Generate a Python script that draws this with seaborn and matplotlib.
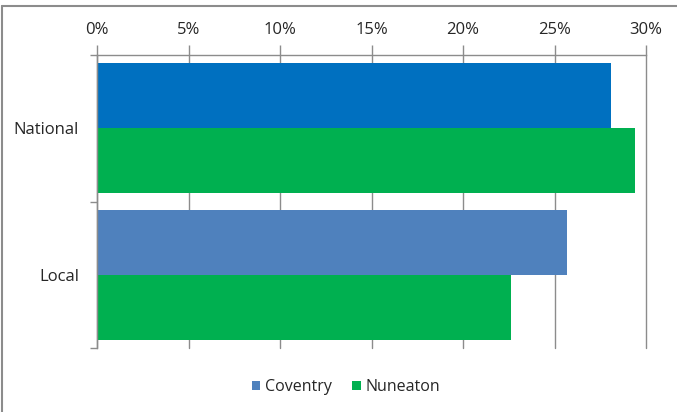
import matplotlib
matplotlib.use("Agg")
import matplotlib.pyplot as plt
from matplotlib.lines import Line2D
from matplotlib.patches import Patch
from matplotlib.ticker import PercentFormatter, FixedLocator
import seaborn as sns
import pandas as pd

# Share of respondents by area (fraction)
categories = ["National", "Local"]
coventry = [0.281, 0.257]
nuneaton = [0.294, 0.226]
series_names = ["Coventry", "Nuneaton"]
x_ticks = [0.0, 0.05, 0.10, 0.15, 0.20, 0.25, 0.30]

colors = {"Coventry": "#4F81BD", "Nuneaton": "#00B050"}
national_coventry_color = "#0070C0"
grid_color = "#8C8C8C"
text_color = "#262626"

df = pd.DataFrame({
    "Area": categories * 2,
    "Value": coventry + nuneaton,
    "Series": [series_names[0]] * len(categories) + [series_names[1]] * len(categories),
})

sns.set_theme(style="white")
plt.rcParams["font.family"] = ["Open Sans", "DejaVu Sans"]

W, H = 677, 412
fig = plt.figure(figsize=(W / 100, H / 100), dpi=100)
ax = fig.add_axes([97 / W, 1 - 348 / H, (646 - 97) / W, (348 - 55) / H])

sns.barplot(data=df, y="Area", x="Value", hue="Series", order=categories,
            hue_order=series_names, palette=colors, orient="h", width=0.89,
            saturation=1, legend=False, ax=ax, linewidth=0)

# The national Coventry bar is drawn in a deeper blue
ax.containers[0][0].set_facecolor(national_coventry_color)

ax.set_xlim(0, 0.30)
ax.set_ylim(1.5, -0.5)
ax.xaxis.set_major_locator(FixedLocator(x_ticks))
ax.xaxis.set_major_formatter(PercentFormatter(1.0, decimals=0))
ax.xaxis.tick_top()
ax.xaxis.set_label_position("top")
ax.set_xlabel("")
ax.set_ylabel("")

ax.grid(axis="x", color=grid_color, linewidth=1.0)
ax.set_axisbelow(True)
for gl in ax.get_xgridlines():
    gl.set_clip_on(False)

for side in ("right", "bottom"):
    ax.spines[side].set_visible(False)
for side in ("top", "left"):
    ax.spines[side].set_color(grid_color)
    ax.spines[side].set_linewidth(1.0)

ax.tick_params(axis="x", which="major", top=True, bottom=False, direction="out",
               length=7, width=1.0, color=grid_color, pad=5,
               labelsize=12, labelcolor=text_color)
ax.set_yticks([0, 1])
ax.set_yticklabels(categories)
ax.yaxis.set_minor_locator(FixedLocator([-0.5, 0.5, 1.5]))
ax.tick_params(axis="y", which="major", left=False, length=0, pad=13,
               labelsize=12, labelcolor=text_color)
ax.tick_params(axis="y", which="minor", left=True, direction="out",
               length=5, width=1.0, color=grid_color)

handles = [Patch(facecolor=colors[s], edgecolor="none") for s in series_names]
fig.legend(handles, series_names, loc="center", bbox_to_anchor=(346 / W, 1 - 387 / H),
           ncol=2, frameon=False, fontsize=11.5, handlelength=0.55, handleheight=0.55,
           handletextpad=0.3, columnspacing=1.25, labelcolor=text_color)

# Outer chart frame (top and left edges)
fig.add_artist(Line2D([2 / W, 1.0], [1 - 6 / H, 1 - 6 / H], transform=fig.transFigure,
                      color="#8C8C8C", linewidth=1.5))
fig.add_artist(Line2D([2 / W, 2 / W], [0.0, 1 - 6 / H], transform=fig.transFigure,
                      color="#8C8C8C", linewidth=1.5))

fig.savefig("out.png", dpi=100)
